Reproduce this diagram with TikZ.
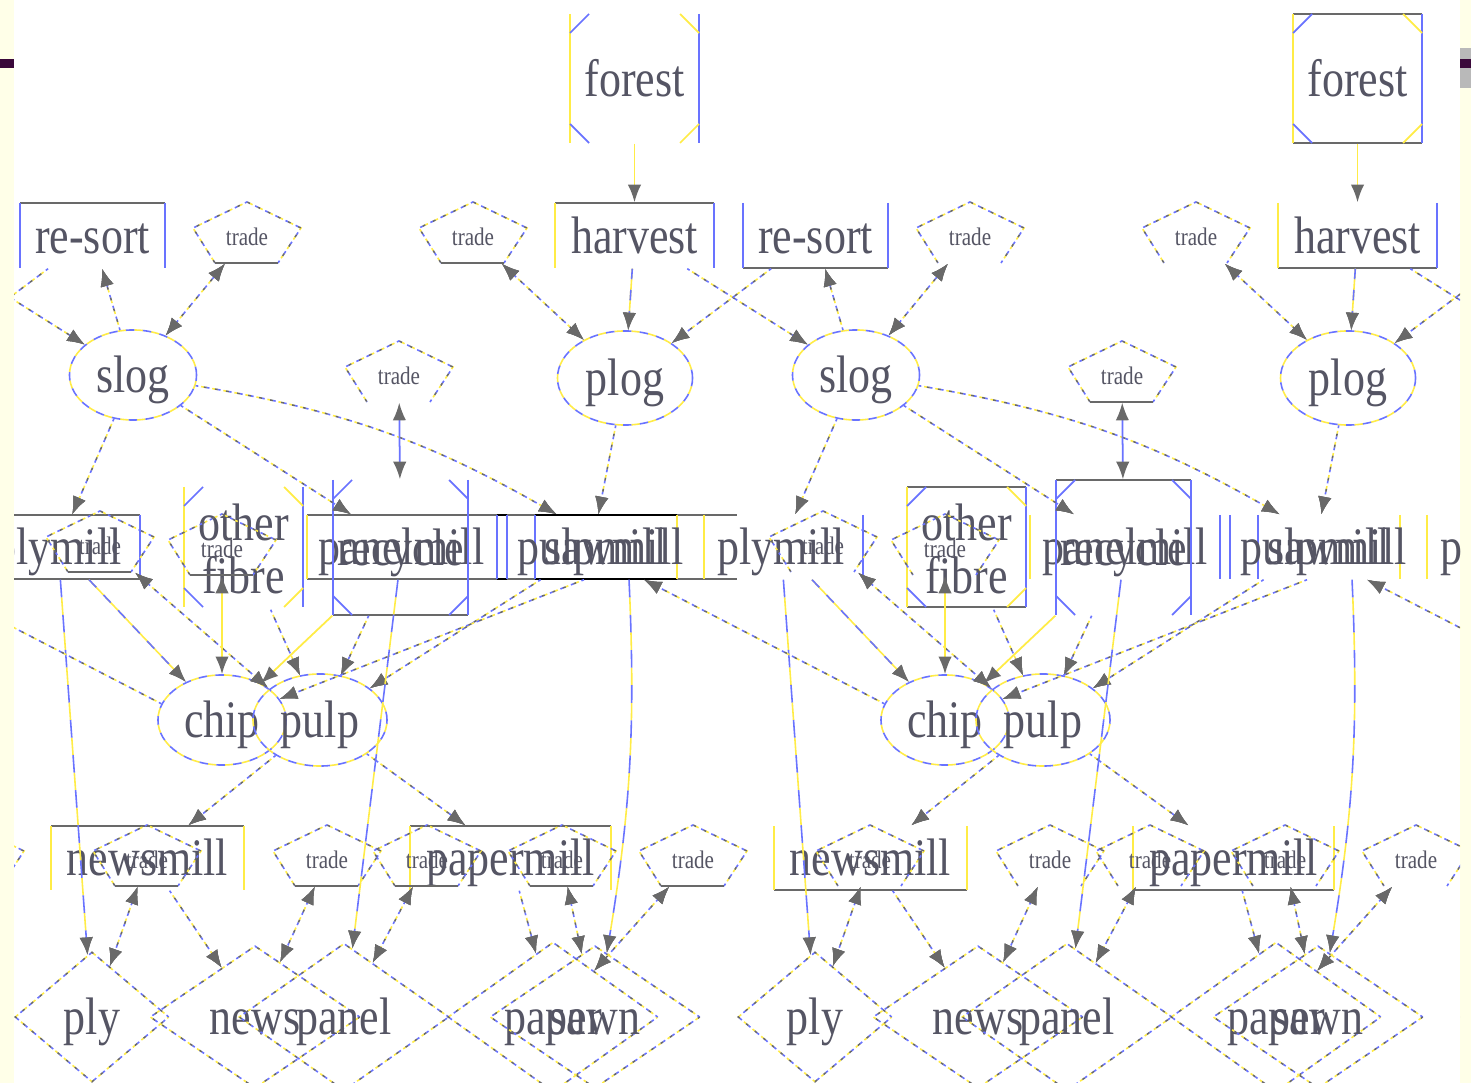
\documentclass[tikz,border=0pt]{standalone}
\usepackage{fontspec}
\setmainfont{Liberation Serif}
\usepackage{graphicx}
\usepackage{tikz}
\usetikzlibrary{
    arrows.meta,
    shapes.geometric,
    calc,
    positioning
}

\definecolor{bl}{RGB}{105,115,255}
\definecolor{yl}{RGB}{255,236,70}
\definecolor{gy}{RGB}{105,105,105}
\definecolor{txt}{RGB}{85,85,100}
\definecolor{cream}{RGB}{255,255,232}
\definecolor{plum}{RGB}{58,8,58}

\newcommand\tall[1]{\scalebox{1}[1.2]{#1}}
\newcommand\nodefont{\fontsize{12.5}{15}\selectfont}
\newcommand\tradefont{\fontsize{6}{7}\selectfont}

\tikzset{
    >={Latex[length=5pt,width=3.8pt,color=gy]},
    dotty/.style={draw=bl, line width=0.45pt, dash pattern=on 0.8pt off 2.4pt,
        preaction={draw=yl, line width=0.45pt, dash pattern=on 0.8pt off 2.4pt, dash phase=1.6pt},
        postaction={draw=gy, line width=0.45pt, dash pattern=on 0.8pt off 2.4pt, dash phase=0.8pt}},
    dotlink/.style={dotty, ->},
    dashlink/.style={->, draw=bl, line width=0.45pt, dash pattern=on 5pt off 5pt,
        preaction={draw=yl, line width=0.45pt, dash pattern=on 5pt off 5pt, dash phase=5pt}},
    sollink/.style={->, draw=bl, line width=0.45pt, dash pattern=on 3pt off 3pt,
        preaction={draw=yl, line width=0.45pt}},
    yllink/.style={->, draw=yl, line width=0.5pt},
    bllink/.style={->, draw=bl, line width=0.5pt},
    word/.style={text height=12.5pt, text depth=2.3pt},
    ring/.style={ellipse, inner sep=0pt, font=\nodefont, text=txt, word, draw=bl, line width=0.45pt,
        dash pattern=on 2.4pt off 2.4pt,
        preaction={draw=yl, line width=0.45pt, dash pattern=on 2.4pt off 2.4pt, dash phase=2.4pt}},
    gem/.style={diamond, inner sep=0pt, font=\nodefont, text=txt, word, dotty},
    plainlbl/.style={rectangle, inner sep=0pt, font=\nodefont, text=txt},
    lbl/.style={plainlbl, word},
    tradelbl/.style={rectangle, inner sep=0pt, font=\tradefont, text=txt,
        minimum width=1.09cm, minimum height=0.52cm},
    ye/.style={draw=yl, line width=0.5pt},
    be/.style={draw=bl, line width=0.5pt},
    shown/.style={draw=gy, line width=0.8pt},
    hidden/.style={draw=none},
    shownblk/.style={draw=black, line width=0.6pt},
    hiddenblk/.style={draw=none}
}

% box sides: x1 y1 x2 y2 / top bottom left right
\newcommand\boxedges[8]{%
    \draw[#5] (#1,#2) -- (#3,#2);
    \draw[#6] (#1,#4) -- (#3,#4);
    \draw[#7] (#1,#2) -- (#1,#4);
    \draw[#8] (#3,#2) -- (#3,#4);}
% square with cut corners
\newcommand\msq[8]{%
    \boxedges{#1}{#2}{#3}{#4}{#5}{#6}{#7}{#8}
    \draw[#8] (#1,#2+19) -- (#1+19,#2) (#1,#4-19) -- (#1+19,#4);
    \draw[#7] (#3-19,#2) -- (#3,#2+19) (#3-19,#4) -- (#3,#4-19);}
% trade pentagon round a centre
\newcommand\tradeshape[3]{%
    \draw[dotty, shift={(#1,#2)}] (31,26) -- (54,-9) -- (0,-35) -- (-54,-9) -- (-32,26);
    \draw[#3, shift={(#1,#2)}] (-32,26) -- (31,26);}

% one copy of the sector graph: index, x offset, left-frame style, right-frame style
\newcommand\forestunit[4]{%
    \msq{#2+570}{14}{#2+699}{143}{#4}{#4}{ye}{be}
    \node[lbl, minimum width=1.29cm, minimum height=1.29cm] (forest#1) at (#2+634.5,78.5) {\tall{forest}};
    \boxedges{#2+555}{203}{#2+714}{268}{#3}{#4}{ye}{be}
    \node[lbl, minimum width=1.59cm, minimum height=0.65cm] (harvest#1) at (#2+634.5,235.5) {\tall{harvest}};
    \boxedges{#2+20}{203}{#2+165}{268}{#3}{#4}{be}{be}
    \node[lbl, minimum width=1.45cm, minimum height=0.65cm] (resort#1) at (#2+92.5,235.5) {\tall{re-sort}};
    \tradeshape{#2+247}{237}{#3}
    \node[tradelbl] (tA#1) at (#2+247,237) {\tall{trade}};
    \tradeshape{#2+473}{237}{#3}
    \node[tradelbl] (tB#1) at (#2+473,237) {\tall{trade}};
    % logs
    \node[ring, minimum width=1.27cm, minimum height=0.90cm] (slog#1) at (#2+133,375) {\tall{slog}};
    \node[ring, minimum width=1.35cm, minimum height=0.94cm] (plog#1) at (#2+625,378) {\tall{plog}};
    \tradeshape{#2+399}{376}{#4}
    \node[tradelbl] (tC#1) at (#2+399,376) {\tall{trade}};
    % mills
    \boxedges{#2-24}{515}{#2+140}{579}{#3}{#3}{hidden}{be}
    \node[lbl, minimum width=1.64cm, minimum height=0.64cm] (plymill#1) at (#2+58,547) {\tall{plymill}};
    \tradeshape{#2+100}{546}{#3}
    \node[tradelbl] (tD#1) at (#2+100,546) {\tall{trade}};
    \msq{#2+184}{487}{#2+303}{607}{#4}{#4}{ye}{be}
    \node[plainlbl, align=center, minimum width=1.19cm, minimum height=1.2cm] (otherfibre#1) at (#2+243.5,549) {\tall{other}\\\tall{fibre}};
    \tradeshape{#2+222}{549}{#3}
    \node[tradelbl] (tE#1) at (#2+222,549) {\tall{trade}};
    \draw[#3] (#2+307,515) -- (#2+737,515) (#2+307,579) -- (#2+737,579);
    \draw[#3blk] (#2+497,515) -- (#2+507,515) (#2+497,579) -- (#2+507,579)
        (#2+535,515) -- (#2+677,515) (#2+535,579) -- (#2+677,579);
    \draw[ye] (#2+307,515) -- (#2+307,579) (#2+677,515) -- (#2+677,579) (#2+704,515) -- (#2+704,579);
    \draw[be] (#2+497,515) -- (#2+497,579) (#2+507,515) -- (#2+507,579) (#2+535,515) -- (#2+535,579);
    \node[lbl, minimum width=1.90cm, minimum height=0.64cm] (panelmill#1) at (#2+402,547) {\tall{panelmill}};
    \msq{#2+333}{480}{#2+468}{615}{#4}{#3}{be}{be}
    \node[lbl, minimum width=1.35cm, minimum height=1.35cm] (recycle#1) at (#2+400.5,547.5) {\tall{recycle}};
    \node[lbl, minimum width=1.97cm, minimum height=0.64cm] (pulpmill#1) at (#2+592,547) {\tall{pulpmill}};
    \node[lbl, minimum width=1.42cm, minimum height=0.64cm] (sawmill#1) at (#2+614,547) {\tall{sawmill}};
    % fibre
    \node[ring, minimum width=1.28cm, minimum height=0.90cm] (chip#1) at (#2+222,720) {\tall{chip}};
    \node[ring, minimum width=1.34cm, minimum height=0.92cm] (pulp#1) at (#2+320,720) {\tall{pulp}};
    % paper mills
    \boxedges{#2+51}{826}{#2+244}{890}{#3}{#4}{ye}{ye}
    \node[lbl, minimum width=1.93cm, minimum height=0.64cm] (newsmill#1) at (#2+147.5,858) {\tall{newsmill}};
    \boxedges{#2+410}{826}{#2+611}{890}{#3}{#4}{ye}{ye}
    \node[lbl, minimum width=2.01cm, minimum height=0.64cm] (papermill#1) at (#2+510.5,858) {\tall{papermill}};
    \tradeshape{#2+147}{860}{#3}
    \node[tradelbl] (tF#1) at (#2+147,860) {\tall{trade}};
    \tradeshape{#2+327}{860}{#3}
    \node[tradelbl] (tG#1) at (#2+327,860) {\tall{trade}};
    \tradeshape{#2+427}{860}{#3}
    \node[tradelbl] (tH#1) at (#2+427,860) {\tall{trade}};
    \tradeshape{#2+562}{860}{#3}
    \node[tradelbl] (tI#1) at (#2+562,860) {\tall{trade}};
    \tradeshape{#2+693}{860}{#3}
    \node[tradelbl] (tJ#1) at (#2+693,860) {\tall{trade}};
    % products
    \node[gem, minimum width=1.54cm, minimum height=1.30cm] (ply#1) at (#2+92,1017) {\tall{ply}};
    \node[gem, minimum width=2.10cm, minimum height=1.30cm] (news#1) at (#2+255,1017) {\tall{news}};
    \node[gem, minimum width=2.10cm, minimum height=1.30cm] (panel#1) at (#2+344,1017) {\tall{panel}};
    \node[gem, minimum width=2.10cm, minimum height=1.30cm] (paper#1) at (#2+553,1017) {\tall{paper}};
    \node[gem, minimum width=2.10cm, minimum height=1.30cm] (sawn#1) at (#2+595,1017) {\tall{sawn}};

    \draw[yllink] (forest#1) -- (harvest#1);
    \draw[sollink] (harvest#1) -- (plog#1);
    \draw[dotlink] (slog#1) -- (resort#1);
    \draw[dotlink, <->] (slog#1) -- (tA#1);
    \draw[dotlink, <->] (tB#1) -- (plog#1);
    \draw[dotlink] (slog#1) -- (plymill#1);
    \draw[dotlink] (slog#1) -- (panelmill#1);
    \draw[dotlink] (slog#1) to[bend left=10] (sawmill#1);
    \draw[dotlink] (plog#1) -- (pulpmill#1);
    \draw[bllink, <->] (tC#1) -- (recycle#1);
    \draw[sollink] (plymill#1) -- (chip#1);
    \draw[dotlink, <->] ([xshift=-0.2cm]tD#1.south east) -- (chip#1.north east);
    \draw[yllink, <->] (tE#1) -- (chip#1);
    \draw[dotlink] (otherfibre#1) -- (pulp#1);
    \draw[dotlink] (recycle#1) -- (pulp#1);
    \draw[yllink] (recycle#1.south west) -- (chip#1);
    \draw[dotlink] (pulpmill#1) -- (pulp#1);
    \draw[dotlink] ([xshift=-0.3cm]sawmill#1.south) -- (chip#1.20);
    \draw[dotlink] (pulp#1) -- (newsmill#1);
    \draw[dotlink] (pulp#1) -- (papermill#1);
    \draw[dashlink] (plymill#1) -- (ply#1);
    \draw[dotlink, <->] (tF#1) -- (ply#1);
    \draw[dotlink] (newsmill#1) -- (news#1);
    \draw[dotlink, <->] (tG#1) -- (news#1);
    \draw[dashlink] (panelmill#1) -- (panel#1);
    \draw[dotlink, <->] (tH#1) -- (panel#1);
    \draw[dotlink] (papermill#1) -- (paper#1);
    \draw[dotlink, <->] (tI#1) -- (sawn#1);
    \draw[dotlink, <->] (tJ#1) -- (paper#1);
    \draw[dashlink] ([xshift=0.15cm]sawmill#1.south) to[bend left=6] (sawn#1);
}

\begin{document}
\begin{tikzpicture}[x=0.01cm, y=-0.01cm]
    \useasboundingbox (0,0) rectangle (1471,1083);
    \fill[cream] (0,0) rectangle (1471,1083);
    \fill[white] (14,0) rectangle (1460,1083);
    \draw[plum, line width=0.09cm] (0,64) -- (14,64);
    \fill[gray!55] (1460,48) rectangle (1471,88);
    \draw[plum, line width=0.09cm] (1460,64) -- (1471,64);

    \begin{scope}
        \clip (14,0) rectangle (1460,1083);
        \forestunit{-1}{-723}{shown}{hidden}
        \forestunit{0}{0}{shown}{hidden}
        \forestunit{1}{723}{hidden}{shown}
        \forestunit{2}{1446}{hidden}{shown}

        % links between neighbouring copies
        \foreach \a/\b in {-1/0,0/1,1/2}{
            \draw[dotlink] (harvest\a) -- (slog\b);
            \draw[dotlink] (resort\b) -- (plog\a);
            \draw[dotlink] (chip\b.165) -- ([xshift=0.3cm]sawmill\a.south);
        }
    \end{scope}
\end{tikzpicture}
\end{document}
